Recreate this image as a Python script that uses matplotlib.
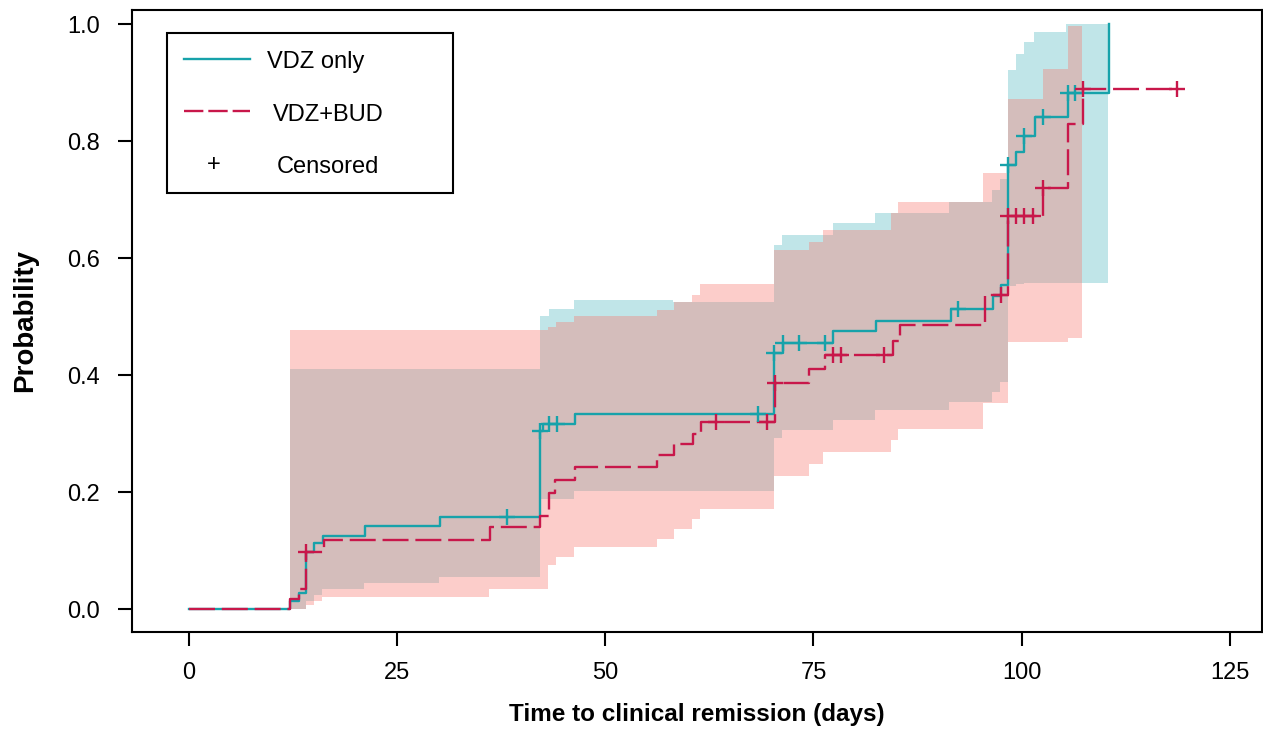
import numpy as np
import matplotlib
matplotlib.use("Agg")
import matplotlib.pyplot as plt
from matplotlib.lines import Line2D
from matplotlib.patches import Rectangle

plt.rcParams['font.family'] = ['Liberation Sans', 'DejaVu Sans']

# ---------------- data ----------------
# VDZ only (Kaplan-Meier cumulative probability of clinical remission)
vdz_t = [0, 12.2, 13.2, 14.1, 15.1, 16.1, 21.2, 30.2, 42.2, 42.5, 46.4, 70.3, 71.3,
         77.3, 82.5, 91.5, 96.5, 97.5, 98.4, 99.3, 100.3, 101.6, 105.5, 110.5]
vdz_p = [0, 0.015, 0.027, 0.098, 0.113, 0.126, 0.143, 0.157, 0.305, 0.316, 0.334, 0.438, 0.455,
         0.476, 0.493, 0.514, 0.535, 0.554, 0.759, 0.781, 0.809, 0.841, 0.883, 1.0]
vdz_cens = [38.2, 42.2, 43.3, 44.2, 68.4, 70.3, 71.3, 73.3, 76.4, 92.4, 98.4, 100.3, 102.5, 105.5, 106.4]

# VDZ+BUD
bud_t = [0, 12.2, 13.2, 14.1, 16.2, 36.2, 42.2, 43.2, 44.0, 46.4, 56.2, 58.2, 60.5, 61.5, 70.4,
         74.5, 76.4, 84.5, 85.4, 95.6, 98.4, 102.5, 105.5, 107.3, 118.6]
bud_p = [0, 0.018, 0.035, 0.098, 0.119, 0.140, 0.160, 0.198, 0.221, 0.243, 0.263, 0.283, 0.300, 0.321, 0.387,
         0.411, 0.434, 0.459, 0.486, 0.537, 0.672, 0.720, 0.829, 0.889, 0.889]
bud_cens = [14.1, 63.3, 69.4, 70.4, 77.4, 78.3, 83.5, 97.5, 98.4, 99.3, 100.3, 101.4, 102.5, 107.3, 118.6]

# 95% confidence bands
vdz_ci_t = [12.15, 14.1, 15.0, 16.0, 21.0, 30.1, 42.2, 43.2, 46.3, 58.1, 70.3, 71.2, 77.3, 82.4,
            91.3, 96.4, 97.4, 98.4, 99.3, 100.3, 101.5, 105.3, 110.4]
vdz_lo = [0.0, 0.015, 0.025, 0.035, 0.045, 0.055, 0.189, 0.189, 0.203, 0.203, 0.292, 0.306, 0.323, 0.340,
          0.354, 0.371, 0.389, 0.552, 0.556, 0.557, 0.557, 0.557, 0.557]
vdz_hi = [0.41, 0.41, 0.41, 0.41, 0.41, 0.41, 0.501, 0.514, 0.529, 0.525, 0.622, 0.639, 0.660, 0.677,
          0.696, 0.717, 0.736, 0.921, 0.950, 0.969, 0.987, 1.0, 1.0]

bud_ci_t = [12.15, 14.1, 15.0, 16.0, 36.1, 42.2, 43.1, 44.1, 46.3, 56.2, 58.2, 60.4, 61.4, 70.3,
            74.5, 76.2, 84.3, 85.2, 95.4, 98.4, 102.5, 105.5, 107.2]
bud_lo = [0.0, 0.008, 0.015, 0.021, 0.035, 0.035, 0.076, 0.090, 0.107, 0.121, 0.137, 0.154, 0.171, 0.227,
          0.248, 0.269, 0.289, 0.309, 0.352, 0.457, 0.457, 0.463, 0.463]
bud_hi = [0.478, 0.478, 0.478, 0.478, 0.478, 0.478, 0.483, 0.491, 0.501, 0.512, 0.526, 0.537, 0.556, 0.614,
          0.628, 0.649, 0.677, 0.696, 0.745, 0.873, 0.924, 0.997, 0.997]

x_ticks = [0, 25, 50, 75, 100, 125]
y_ticks = [0.0, 0.2, 0.4, 0.6, 0.8, 1.0]
y_ticklabels = ["0.0", "0.2", "0.4", "0.6", "0.8", "1.0"]
labels = ["VDZ only", "VDZ+BUD", "Censored"]

# ---------------- style ----------------
TEAL = "#17A2AA"
RED = "#C8174A"
PINK = "#F8766D"
W, H = 1263, 730

fig = plt.figure(figsize=(W / 100, H / 100), dpi=100)
ax_l, ax_r, ax_t, ax_b = 132.3, 1261.7, 10.0, 631.7
ax = fig.add_axes([ax_l / W, 1 - ax_b / H, (ax_r - ax_l) / W, (ax_b - ax_t) / H])


def step_val(t, p, x):
    t = np.asarray(t)
    p = np.asarray(p)
    idx = np.searchsorted(t, np.asarray(x), side="right") - 1
    return p[idx]


# bands
ax.fill_between(vdz_ci_t, vdz_lo, vdz_hi, step="post", color=TEAL, alpha=0.27, linewidth=0, zorder=1)
ax.fill_between(bud_ci_t, bud_lo, bud_hi, step="post", color=PINK, alpha=0.36, linewidth=0, zorder=2)

# curves
ax.plot(vdz_t, vdz_p, drawstyle="steps-post", color=TEAL, lw=1.7, zorder=3)
ax.plot(bud_t, bud_p, drawstyle="steps-post", color=RED, lw=1.7, zorder=4,
        linestyle=(0, (11.0, 2.9)))

# censor marks
ax.plot(vdz_cens, step_val(vdz_t, vdz_p, vdz_cens), linestyle="none", marker="+",
        markersize=11.5, markeredgewidth=1.7, color=TEAL, zorder=5)
ax.plot(bud_cens, step_val(bud_t, bud_p, bud_cens), linestyle="none", marker="+",
        markersize=11.5, markeredgewidth=1.7, color=RED, zorder=6)

ax.set_xlim(-6.77, 128.81)
ax.set_ylim(-0.0383, 1.0244)
ax.set_xticks(x_ticks)
ax.set_xticklabels([str(v) for v in x_ticks])
ax.set_yticks(y_ticks)
ax.set_yticklabels(y_ticklabels)
ax.tick_params(axis="both", direction="out", length=10, width=1.5, labelsize=17, color="black")
ax.tick_params(axis="x", pad=12)
ax.tick_params(axis="y", pad=13)
for s in ax.spines.values():
    s.set_linewidth(1.5)

fig.text(25 / W, 1 - 321 / H, "Probability", rotation=90, ha="center", va="center",
         fontsize=20, fontweight="bold")
fig.text(697 / W, 1 - 714 / H, "Time to clinical remission (days)", ha="center", va="center",
         fontsize=17.5, fontweight="bold")

# ---------------- legend (drawn by hand) ----------------
def fx(px):
    return px / W


def fy(py):
    return 1 - py / H


fig.add_artist(Rectangle((fx(166.7), fy(193.3)), fx(453.3) - fx(166.7), fy(33.3) - fy(193.3),
                         transform=fig.transFigure, fill=False, edgecolor="black", linewidth=1.5))
fig.add_artist(Line2D([fx(184), fx(250)], [fy(58.5), fy(58.5)], transform=fig.transFigure,
                      color=TEAL, lw=1.7))
fig.add_artist(Line2D([fx(184), fx(250)], [fy(110.7), fy(110.7)], transform=fig.transFigure,
                      color=RED, lw=1.7, linestyle=(0, (8.2, 2.1))))
fig.text(fx(213.5), fy(165), "+", ha="center", va="center", fontsize=17)
fig.text(fx(267), fy(62), labels[0], ha="left", va="center", fontsize=17)
fig.text(fx(272.5), fy(115), labels[1], ha="left", va="center", fontsize=17)
fig.text(fx(277), fy(167), labels[2], ha="left", va="center", fontsize=17)

fig.savefig("out.png", dpi=100)
